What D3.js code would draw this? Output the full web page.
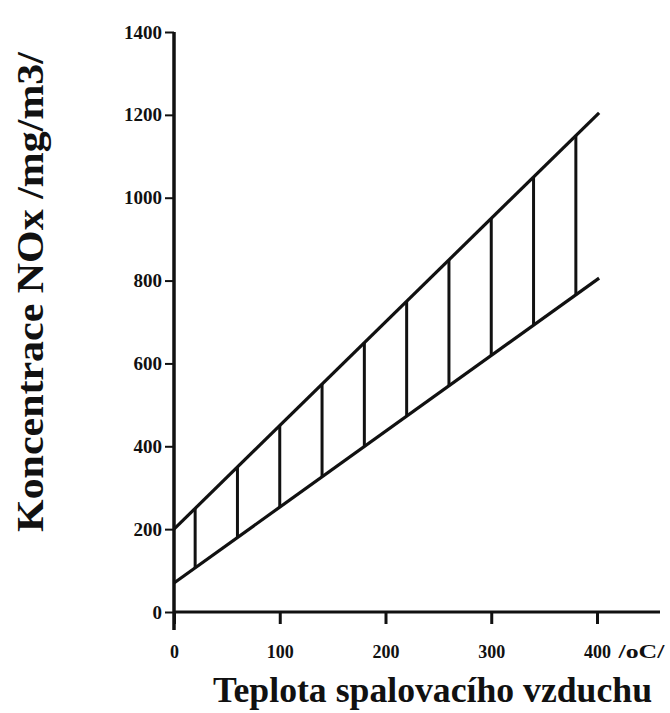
<!DOCTYPE html>
<html lang="en">
<head>
  <meta charset="utf-8">
  <script src="https://d3js.org/d3.v7.min.js"></script>
  <style>
    body { margin: 0; background: #fff; }
    text { font-family: "Liberation Serif", "Times New Roman", serif; font-weight: bold; fill: #111; }
  </style>
</head>
<body>
  <svg id="chart" width="670" height="713"></svg>
  <script>
    // temperature of combustion air vs NOx band
    const xTicks = [0, 100, 200, 300, 400];
    const yTicks = [0, 200, 400, 600, 800, 1000, 1200, 1400];
    const bandT = [0, 402];
    const upperNOx = [200, 1205];
    const lowerNOx = [70, 806];
    const hatchT = [20, 60, 100, 140, 180, 220, 260, 300, 340, 380];

    const svg = d3.select("svg#chart");

    const x = d3.scaleLinear().domain([0, 400]).range([174, 597]);
    const y = d3.scaleLinear().domain([0, 1400]).range([612, 32]);

    const upper = d3.scaleLinear().domain(bandT).range(upperNOx);
    const lower = d3.scaleLinear().domain(bandT).range(lowerNOx);

    // hatching
    svg.append("g")
      .selectAll("line")
      .data(hatchT)
      .join("line")
      .attr("x1", d => x(d)).attr("x2", d => x(d))
      .attr("y1", d => y(lower(d))).attr("y2", d => y(upper(d)))
      .attr("stroke", "#111").attr("stroke-width", 3);

    // band edges
    [upper, lower].forEach(f => {
      svg.append("line")
        .attr("x1", x(bandT[0])).attr("y1", y(f(bandT[0])))
        .attr("x2", x(bandT[1])).attr("y2", y(f(bandT[1])))
        .attr("stroke", "#111").attr("stroke-width", 3.2);
    });

    // y axis
    const yAxis = svg.append("g")
      .attr("transform", "translate(" + x(0) + ",0)")
      .call(d3.axisLeft(y).tickValues(yTicks).tickFormat(d3.format("d")).tickSize(9).tickPadding(3));
    yAxis.select(".domain").remove();
    yAxis.selectAll(".tick line").attr("stroke", "#111").attr("stroke-width", 2);
    yAxis.selectAll(".tick text").style("font-size", "19px");
    svg.append("line")
      .attr("x1", x(0)).attr("x2", x(0))
      .attr("y1", y(1400)).attr("y2", y(0) + 18)
      .attr("stroke", "#111").attr("stroke-width", 3.5);

    // x axis
    const xAxis = svg.append("g")
      .attr("transform", "translate(0," + y(0) + ")")
      .call(d3.axisBottom(x).tickValues(xTicks).tickSize(12).tickPadding(21));
    xAxis.select(".domain").remove();
    xAxis.selectAll(".tick line").attr("stroke", "#111").attr("stroke-width", 3);
    xAxis.selectAll(".tick text").style("font-size", "18px");
    xAxis.selectAll(".tick").filter(d => d === 400)
      .append("text")
      .attr("x", 21).attr("y", 46)
      .attr("text-anchor", "start")
      .attr("textLength", 46)
      .attr("lengthAdjust", "spacingAndGlyphs")
      .style("font-size", "18px")
      .text("/oC/");
    svg.append("line")
      .attr("x1", x(0)).attr("x2", 660)
      .attr("y1", y(0)).attr("y2", y(0))
      .attr("stroke", "#111").attr("stroke-width", 3);

    // axis titles
    svg.append("text")
      .attr("x", 213).attr("y", 702)
      .attr("textLength", 439)
      .attr("lengthAdjust", "spacingAndGlyphs")
      .style("font-size", "36px")
      .text("Teplota spalovacího vzduchu");

    svg.append("text")
      .attr("transform", "translate(43,532) rotate(-90)")
      .attr("textLength", 480)
      .attr("lengthAdjust", "spacingAndGlyphs")
      .style("font-size", "38px")
      .text("Koncentrace NOx /mg/m3/");
  </script>
</body>
</html>
